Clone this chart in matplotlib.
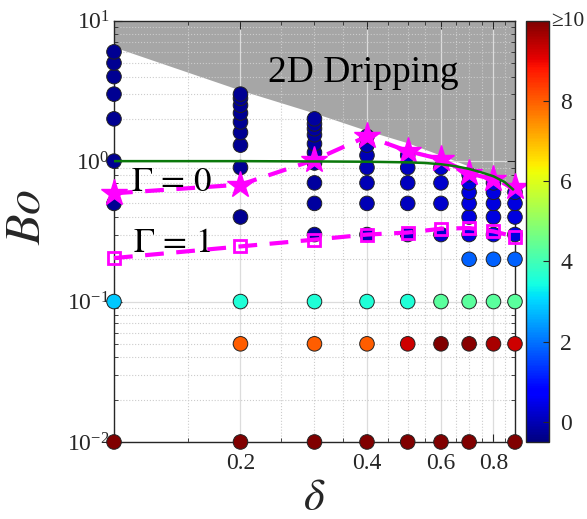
import matplotlib
matplotlib.use('Agg')
import matplotlib.pyplot as plt
import numpy as np
from matplotlib.ticker import FixedLocator, NullFormatter, LogLocator, LogFormatterMathtext

plt.rcParams['font.family'] = ['Liberation Serif', 'DejaVu Serif']
plt.rcParams['mathtext.fontset'] = 'stix'

# simulation points: one column per delta
delta_cols = [0.1, 0.2, 0.3, 0.4, 0.5, 0.6, 0.7, 0.8, 0.9]
bo_cols = [
    [0.01, 0.1, 0.5, 1, 2, 3, 4, 5, 6],
    [0.01, 0.05, 0.1, 0.4, 0.9, 1.3, 1.6, 1.9, 2.2, 2.5, 2.8, 3.0],
    [0.01, 0.05, 0.1, 0.3, 0.5, 0.7, 0.97, 1.15, 1.33, 1.54, 1.7, 1.84, 2.0],
    [0.01, 0.05, 0.1, 0.3, 0.5, 0.7, 0.9, 1.1, 1.3, 1.5],
    [0.01, 0.05, 0.1, 0.3, 0.5, 0.7, 0.9, 1.1],
    [0.01, 0.05, 0.1, 0.3, 0.5, 0.7, 0.9],
    [0.01, 0.05, 0.1, 0.2, 0.3, 0.4, 0.5, 0.6, 0.7, 0.8],
    [0.05, 0.1, 0.2, 0.3, 0.4, 0.5, 0.6, 0.7],
    [0.01, 0.05, 0.1, 0.2, 0.3, 0.4, 0.5, 0.6],
]
val_cols = [
    [10, 2.9, -0.3, -0.3, -0.3, -0.3, -0.3, -0.3, -0.3],
    [10, 8.0, 3.6, -0.3, -0.3, -0.3, -0.3, -0.3, -0.3, -0.3, -0.3, -0.3],
    [10, 8.0, 3.6, -0.2, -0.2, -0.2, -0.2, -0.2, -0.2, -0.2, -0.2, -0.2, -0.2],
    [10, 8.0, 3.6, 0.0, 0.0, 0.0, 0.0, 0.0, 0.0, 0.0],
    [10, 9.3, 3.6, 0.1, 0.1, 0.1, 0.1, 0.1],
    [10, 10, 4.3, 0.2, 0.2, 0.2, 0.2],
    [10, 9.9, 4.3, 1.8, 0.4, 0.4, 0.4, 0.4, 0.4, 0.4],
    [9.6, 4.3, 1.8, 0.4, 0.4, 0.4, 0.4, 0.4],
    [10, 9.3, 4.3, 1.8, 0.4, 0.4, 0.4, 0.4],
]

# critical curves
delta_line = [0.1, 0.2, 0.3, 0.4, 0.5, 0.6, 0.7, 0.8, 0.9]
bo_gamma0 = [0.59, 0.68, 1.02, 1.5, 1.18, 1.03, 0.82, 0.74, 0.65]
bo_gamma1 = [0.204, 0.247, 0.276, 0.30, 0.31, 0.33, 0.334, 0.316, 0.29]

delta_green = [0.1, 0.2, 0.3, 0.4, 0.5, 0.55, 0.6, 0.65, 0.7, 0.75, 0.8, 0.85, 0.89]
bo_green = [1.0, 1.0, 0.995, 0.99, 0.98, 0.97, 0.95, 0.92, 0.88, 0.83, 0.78, 0.71, 0.63]

# dripping region boundary
delta_drip = [0.1, 0.2, 0.3, 0.4, 0.5, 0.6, 0.7, 0.8, 0.9]
bo_drip = [6.5, 3.2, 2.2, 1.65, 1.35, 1.1, 0.92, 0.78, 0.66]

cbar_ticks = [0, 2, 4, 6, 8, 10]
cbar_labels = ['0', '2', '4', '6', '8', '']
x_ticks = [0.2, 0.4, 0.6, 0.8]
x_labels = ['0.2', '0.4', '0.6', '0.8']

fig = plt.figure(figsize=(5.87, 5.19), dpi=100)
ax = fig.add_axes([0.1942, 0.1484, 0.6831, 0.8117])
cax = fig.add_axes([0.8956, 0.1484, 0.0402, 0.8117])

ax.set_xscale('log')
ax.set_yscale('log')

ax.fill_between(delta_drip, bo_drip, 10, color='#a6a6a6', lw=0, zorder=0.5)

pts_d, pts_b, pts_v = [], [], []
for d, bs, vs in zip(delta_cols, bo_cols, val_cols):
    pts_d += [d] * len(bs)
    pts_b += bs
    pts_v += vs
sc = ax.scatter(pts_d, pts_b, c=pts_v, cmap='jet', vmin=-0.5, vmax=10, s=110,
                edgecolors='#222222', linewidths=0.7, zorder=3, clip_on=False)

ax.plot(delta_line, bo_gamma1, color='#ff00ff', lw=3, dashes=(4.5, 3), marker='s',
        ms=8, mfc='none', mec='#ff00ff', mew=2, zorder=4, clip_on=False)
ax.plot(delta_line, bo_gamma0, color='#ff00ff', lw=3, dashes=(4.5, 3), marker='*',
        ms=20, mfc='#ff00ff', mec='#ff00ff', zorder=4, clip_on=False)
ax.plot(delta_green, bo_green, color='#0a780a', lw=1.8, zorder=5)

ax.set_xlim(0.1, 0.9)
ax.set_ylim(0.01, 10)

ax.xaxis.set_major_locator(FixedLocator(x_ticks))
ax.set_xticklabels(x_labels)
ax.xaxis.set_minor_locator(FixedLocator(np.arange(0.1, 0.91, 0.05)))
ax.xaxis.set_minor_formatter(NullFormatter())
ax.yaxis.set_major_locator(LogLocator(base=10))
ax.yaxis.set_major_formatter(LogFormatterMathtext())
ax.yaxis.set_minor_locator(LogLocator(base=10, subs=np.arange(2, 10)))
ax.yaxis.set_minor_formatter(NullFormatter())

ax.grid(True, which='major', color='#dcdcdc', lw=0.9, ls='-')
ax.grid(True, which='minor', color='#cccccc', lw=0.8, ls=':')

ax.tick_params(which='both', direction='in', top=True, right=True,
               labelsize=17, labelcolor='#262626', color='#262626')
ax.tick_params(which='major', length=6, width=0.8)
ax.tick_params(which='minor', length=3, width=0.6)
ax.tick_params(axis='x', pad=8)
ax.tick_params(axis='y', pad=3)
for s in ax.spines.values():
    s.set_color('#262626')
    s.set_linewidth(1.0)

ax.text(0.623, 0.855, '2D Dripping', transform=ax.transAxes, ha='center',
        va='baseline', fontsize=27, zorder=6)
ax.text(0.1434, 0.5965, r'$\Gamma\,=\,0$', transform=ax.transAxes, ha='center',
        va='baseline', fontsize=25, zorder=6)
ax.text(0.1446, 0.451, r'$\Gamma\,=\,1$', transform=ax.transAxes, ha='center',
        va='baseline', fontsize=25, zorder=6)

fig.text(27 / 587, 1 - 217 / 519, r'$Bo$', rotation=90, ha='center', va='center',
         fontsize=36, color='#262626')
fig.text(314 / 587, 1 - 479 / 519, r'$\delta$', ha='center', va='top',
         fontsize=32, color='#262626')

cb = fig.colorbar(sc, cax=cax)
cb.set_ticks(cbar_ticks)
cb.set_ticklabels(cbar_labels)
cb.ax.tick_params(direction='in', length=4, labelsize=17, labelcolor='#262626',
                  color='#262626', pad=8)
cb.outline.set_edgecolor('#262626')
cb.outline.set_linewidth(1.0)
fig.text(551 / 587, 1 - 22 / 519, '\u226510', ha='left', va='center',
         fontsize=15.5, color='#262626')

fig.savefig('out.png', dpi=100)
